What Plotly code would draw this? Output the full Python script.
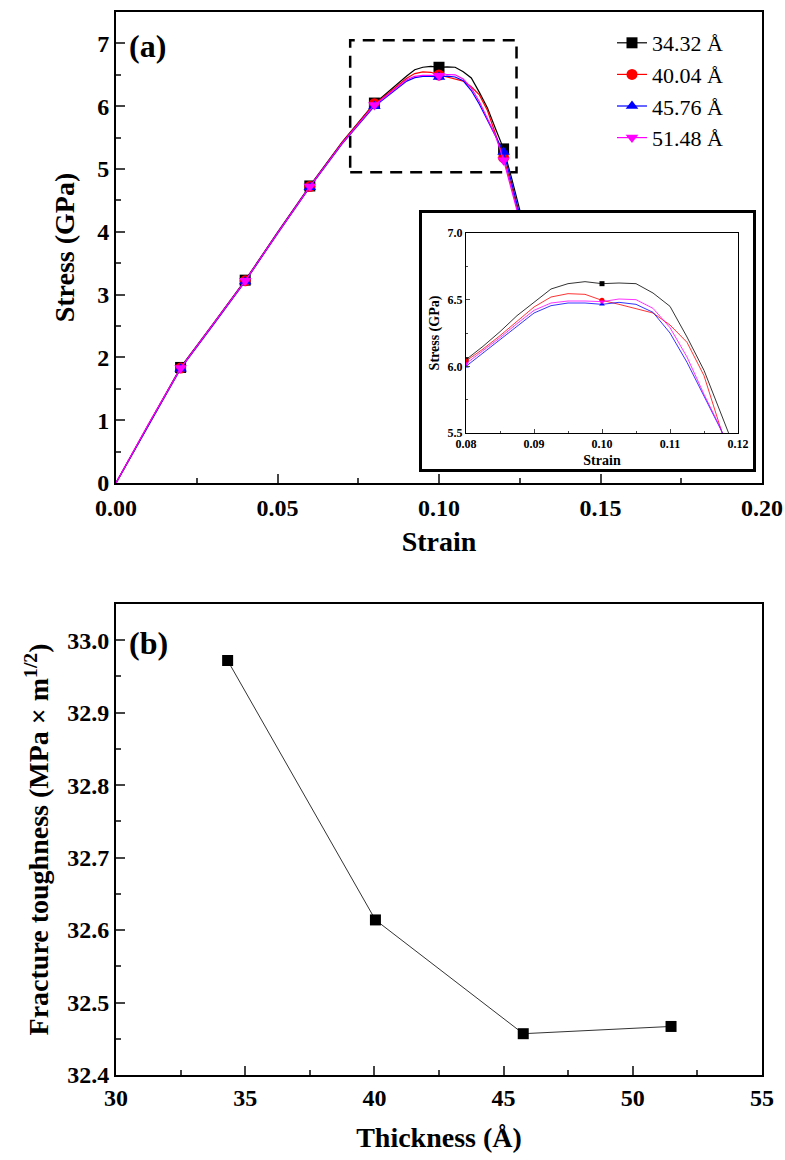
import plotly.graph_objects as go

# ---------------- data ----------------
strain = [0.0, 0.01, 0.02, 0.03, 0.04, 0.05, 0.06, 0.07, 0.08,
          0.0825, 0.085, 0.0875, 0.09, 0.0925, 0.095, 0.0975, 0.10,
          0.1025, 0.105, 0.1075, 0.11, 0.1125, 0.115, 0.1175, 0.12,
          0.1225, 0.125, 0.1275, 0.13]

stress_3432 = [0.0, 0.93, 1.84, 2.53, 3.23, 3.99, 4.73, 5.43, 6.05,
               6.15, 6.26, 6.38, 6.48, 6.58, 6.62, 6.635, 6.62,
               6.625, 6.62, 6.55, 6.45, 6.22, 5.97, 5.64, 5.32,
               4.85, 4.35, 3.80, 3.20]
stress_4004 = [0.0, 0.93, 1.83, 2.52, 3.22, 3.98, 4.72, 5.42, 6.04,
               6.13, 6.23, 6.34, 6.445, 6.52, 6.545, 6.54, 6.495,
               6.465, 6.43, 6.40, 6.31, 6.18, 5.93, 5.56, 5.18,
               4.72, 4.22, 3.70, 3.10]
stress_4576 = [0.0, 0.92, 1.82, 2.51, 3.21, 3.97, 4.71, 5.40, 6.00,
               6.10, 6.195, 6.30, 6.40, 6.455, 6.475, 6.475, 6.465,
               6.48, 6.465, 6.405, 6.25, 6.03, 5.77, 5.52, 5.27,
               4.78, 4.28, 3.75, 3.15]
stress_5148 = [0.0, 0.93, 1.83, 2.52, 3.22, 3.98, 4.72, 5.41, 6.02,
               6.115, 6.215, 6.32, 6.42, 6.475, 6.49, 6.49, 6.485,
               6.505, 6.50, 6.435, 6.29, 6.07, 5.79, 5.53, 5.14,
               4.66, 4.18, 3.65, 3.05]

series_names = ["34.32 Å", "40.04 Å", "45.76 Å", "51.48 Å"]
series_values = [stress_3432, stress_4004, stress_4576, stress_5148]
marker_strains = [0.02, 0.04, 0.06, 0.08, 0.10, 0.12]

thickness = [34.32, 40.04, 45.76, 51.48]
toughness = [32.972, 32.614, 32.457, 32.467]

# ---------------- styles ----------------
colors = ["#000000", "#FF0000", "#0000FF", "#FF00FF"]
symbols = ["square", "circle", "triangle-up", "triangle-down"]
FONT = "Liberation Serif, Times New Roman, serif"
W, H = 785, 1160


def px_x(p):
    return p / W


def px_y(p):
    return 1 - p / H


marked_idx = [i for i, s in enumerate(strain)
              if any(abs(s - m) < 1e-9 for m in marker_strains)]

fig = go.Figure()

# main curves (markers shown only at the marked strains)
for name, vals, c, sym in zip(series_names, series_values, colors, symbols):
    fig.add_trace(go.Scatter(
        x=strain, y=vals, name=name, mode="lines+markers",
        line=dict(color=c, width=1.2),
        marker=dict(symbol=sym, color=c, size=11, line=dict(width=0)),
        selectedpoints=marked_idx,
        selected=dict(marker=dict(opacity=1)),
        unselected=dict(marker=dict(opacity=0)),
        xaxis="x", yaxis="y", showlegend=True, cliponaxis=False,
    ))

# bottom panel
fig.add_trace(go.Scatter(
    x=thickness, y=toughness, mode="lines+markers",
    line=dict(color="#333333", width=1),
    marker=dict(symbol="square", color="black", size=11),
    xaxis="x2", yaxis="y2", showlegend=False,
))

# inset white box (single white cell covering the box subplot)
fig.add_trace(go.Heatmap(
    z=[[0]], colorscale=[[0, "white"], [1, "white"]], showscale=False,
    hoverinfo="skip", xaxis="x3", yaxis="y3",
))

# inset curves
for name, vals, c, sym in zip(series_names, series_values, colors, symbols):
    fig.add_trace(go.Scatter(
        x=strain, y=vals, mode="lines+markers",
        line=dict(color=c, width=0.8),
        marker=dict(symbol=sym, color=c, size=5, line=dict(width=0)),
        selectedpoints=marked_idx,
        selected=dict(marker=dict(opacity=1)),
        unselected=dict(marker=dict(opacity=0)),
        xaxis="x4", yaxis="y4", showlegend=False,
    ))

tickfont_main = dict(family=FONT, size=24, color="black", weight="bold")
titlefont_main = dict(family=FONT, size=28, color="black", weight="bold")
tickfont_in = dict(family=FONT, size=12, color="black", weight="bold")
titlefont_in = dict(family=FONT, size=14, color="black", weight="bold")

main_dom_x = [px_x(116), px_x(762)]

common = dict(showgrid=False, zeroline=False, showline=True, linecolor="black",
              mirror=True, ticks="inside", automargin=False)

fig.update_layout(
    width=W, height=H,
    margin=dict(l=0, r=0, t=0, b=0),
    paper_bgcolor="white", plot_bgcolor="white",
    font=dict(family=FONT, color="black"),
    xaxis=dict(domain=main_dom_x, range=[0, 0.2], anchor="y", dtick=0.05,
               tickformat=".2f", linewidth=2, ticklen=9, tickwidth=1.5,
               minor=dict(dtick=0.025, ticklen=5, tickwidth=1.5, ticks="inside"),
               tickfont=tickfont_main, ticklabelstandoff=2,
               title=dict(text="Strain", font=titlefont_main, standoff=12),
               **common),
    yaxis=dict(domain=[px_y(483), px_y(12)], range=[0, 7.5], anchor="x", dtick=1,
               linewidth=2, ticklen=9, tickwidth=1.5,
               minor=dict(dtick=0.5, ticklen=5, tickwidth=1.5, ticks="inside"),
               tickfont=tickfont_main, title=dict(text="Stress (GPa)", font=titlefont_main, standoff=14),
               **common),
    xaxis2=dict(domain=main_dom_x, range=[30, 55], anchor="y2", dtick=5,
                linewidth=2, ticklen=9, tickwidth=1.5,
                minor=dict(dtick=2.5, ticklen=5, tickwidth=1.5, ticks="inside"),
                tickfont=tickfont_main, title=dict(text="Thickness (Å)", font=titlefont_main, standoff=18),
                **common),
    yaxis2=dict(domain=[px_y(1075), px_y(604)], range=[32.4, 33.05], anchor="x2", dtick=0.1,
                tickformat=".1f", linewidth=2, ticklen=9, tickwidth=1.5,
                minor=dict(dtick=0.05, ticklen=5, tickwidth=1.5, ticks="inside"),
                tickfont=tickfont_main,
                title=dict(text="Fracture toughness (MPa × m<sup>1/2</sup>)", font=titlefont_main, standoff=10),
                **common),
    xaxis3=dict(domain=[px_x(422), px_x(753)], anchor="y3", showgrid=False, zeroline=False,
                showticklabels=False, ticks="", showline=True, mirror=True, linecolor="black",
                linewidth=2.5, automargin=False),
    yaxis3=dict(domain=[px_y(469), px_y(213)], anchor="x3", showgrid=False, zeroline=False,
                showticklabels=False, ticks="", showline=True, mirror=True, linecolor="black",
                linewidth=2.5, automargin=False),
    xaxis4=dict(domain=[px_x(466), px_x(738)], range=[0.08, 0.12], anchor="y4", dtick=0.01,
                tickformat=".2f", linewidth=1, ticklen=4, tickwidth=1,
                minor=dict(dtick=0.005, ticklen=2, tickwidth=1, ticks="inside"),
                tickfont=tickfont_in, title=dict(text="Strain", font=titlefont_in, standoff=4),
                **common),
    yaxis4=dict(domain=[px_y(433), px_y(233)], range=[5.5, 7.0], anchor="x4", dtick=0.5,
                tickformat=".1f", linewidth=1, ticklen=4, tickwidth=1,
                minor=dict(dtick=0.25, ticklen=2, tickwidth=1, ticks="inside"),
                tickfont=tickfont_in, title=dict(text="Stress (GPa)", font=titlefont_in, standoff=4),
                **common),
    legend=dict(x=px_x(612), y=px_y(22), xanchor="left", yanchor="top",
                bgcolor="rgba(0,0,0,0)", borderwidth=0,
                font=dict(family=FONT, size=22, color="black"), tracegroupgap=0),
    shapes=[dict(type="rect", xref="x", yref="y", x0=0.0725, x1=0.124, y0=4.95, y1=7.05,
                 line=dict(color="black", width=2.5, dash="12px,8px"), layer="above")],
    annotations=[
        dict(text="(a)", xref="paper", yref="paper", x=px_x(127), y=px_y(46),
             xanchor="left", yanchor="middle", showarrow=False,
             font=dict(family=FONT, size=32, color="black", weight="bold")),
        dict(text="(b)", xref="paper", yref="paper", x=px_x(127), y=px_y(643),
             xanchor="left", yanchor="middle", showarrow=False,
             font=dict(family=FONT, size=32, color="black", weight="bold")),
    ],
)

fig.write_html("out.html")
